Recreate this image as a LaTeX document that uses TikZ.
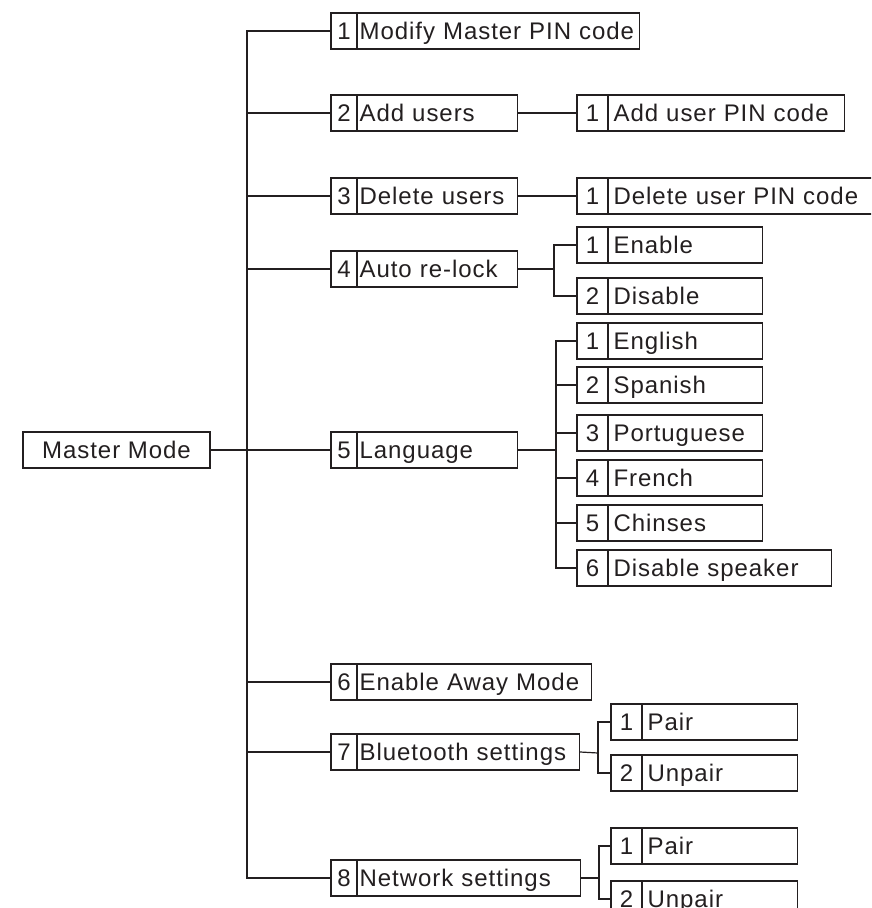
\documentclass[tikz,border=0pt]{standalone}
\usepackage{fontspec}
\setmainfont{Liberation Sans}[LetterSpace=4]
\definecolor{ink}{HTML}{231F20}
\tikzset{
  cell/.style={draw=ink, text=ink, line width=1.2pt, minimum height=36pt,
    text height=19pt, text depth=2pt, font=\fontsize{24}{28}\selectfont},
  numcell/.style={cell, inner sep=0pt},
  txtcell/.style={cell, align=left, anchor=west, inner ysep=0pt},
  link/.style={draw=ink, line width=1.2pt}
}
% #1 name, #2 left, #3 divider, #4 right, #5 y, #6 number, #7 text, #8 inner xsep
\newcommand\boxitem[8]{%
  \pgfmathsetmacro\bxnw{#3-#2}%
  \pgfmathsetmacro\bxtw{#4-#3-2*#8}%
  \node[numcell, minimum width=\bxnw pt] (n#1) at ({(#2+#3)/2},#5) {#6};
  \node[txtcell, text width=\bxtw pt, inner xsep=#8pt] (#1) at (#3,#5) {#7};
}
\begin{document}
\begin{tikzpicture}[x=1pt,y=-1pt]
\useasboundingbox (0,0) rectangle (871,908);
\fill[white] (0,0) rectangle (871,908);
\clip (0,0) rectangle (871,908);

\node[cell, minimum width=187pt, inner sep=0pt] (mm) at (116.5,450) {Master Mode};

\boxitem{i1}{331}{357}{639}{31}{1}{Modify Master PIN code}{2}
\boxitem{i2}{331}{357}{517}{113}{2}{Add users}{2}
\boxitem{i3}{331}{357}{517}{196}{3}{Delete users}{2}
\boxitem{i4}{331}{357}{517}{269}{4}{Auto re-lock}{2}
\boxitem{i5}{331}{357}{517}{450}{5}{Language}{2}
\boxitem{i6}{331}{357}{591}{682}{6}{Enable Away Mode}{2}
\boxitem{i7}{331}{357}{579}{752}{7}{Bluetooth settings}{2}
\boxitem{i8}{331}{357}{580}{878}{8}{Network settings}{2}

\boxitem{s21}{577}{608}{844}{113}{1}{Add user PIN code}{5}
\boxitem{s31}{577}{608}{876}{196}{1}{Delete user PIN code}{5}
\boxitem{s41}{577}{608}{762}{245}{1}{Enable}{5}
\boxitem{s42}{577}{608}{762}{296}{2}{Disable}{5}
\boxitem{s51}{577}{608}{762}{341}{1}{English}{5}
\boxitem{s52}{577}{608}{762}{385}{2}{Spanish}{5}
\boxitem{s53}{577}{608}{762}{433}{3}{Portuguese}{5}
\boxitem{s54}{577}{608}{762}{478}{4}{French}{5}
\boxitem{s55}{577}{608}{762}{523}{5}{Chinses}{5}
\boxitem{s56}{577}{608}{831}{568}{6}{Disable speaker}{5}
\boxitem{s71}{611}{642}{797}{722}{1}{Pair}{5}
\boxitem{s72}{611}{642}{797}{773}{2}{Unpair}{5}
\boxitem{s81}{611}{642}{797}{846}{1}{Pair}{5}
\boxitem{s82}{611}{642}{797}{899}{2}{Unpair}{5}

% trunk
\coordinate (tr) at (247,878);
\draw[link] (ni1.west) -| (tr) -- (ni8.west);
\foreach \k in {2,...,7}{\draw[link] (ni\k.west) -- (ni\k.west -| tr);}
\draw[link] (mm.east) -- (mm.east -| tr);

% second level
\draw[link] (i2.east) -- (ns21.west);
\draw[link] (i3.east) -- (ns31.west);
\coordinate (j4) at (554,269);
\draw[link] (i4.east) -- (j4);
\draw[link] (ns41.west) -| (j4) |- (ns42.west);
\coordinate (j5) at (556,450);
\draw[link] (i5.east) -- (j5);
\draw[link] (ns51.west) -| (j5) |- (ns56.west);
\foreach \k in {2,...,5}{\draw[link] (ns5\k.west) -- (ns5\k.west -| j5);}
\coordinate (j7) at (598,753);
\draw[link] (i7.east) -- (j7);
\draw[link] (ns71.west) -| (j7) |- (ns72.west);
\coordinate (j8) at (599,878);
\draw[link] (i8.east) -- (j8);
\draw[link] (ns81.west) -| (j8) |- (ns82.west);
\end{tikzpicture}
\end{document}
